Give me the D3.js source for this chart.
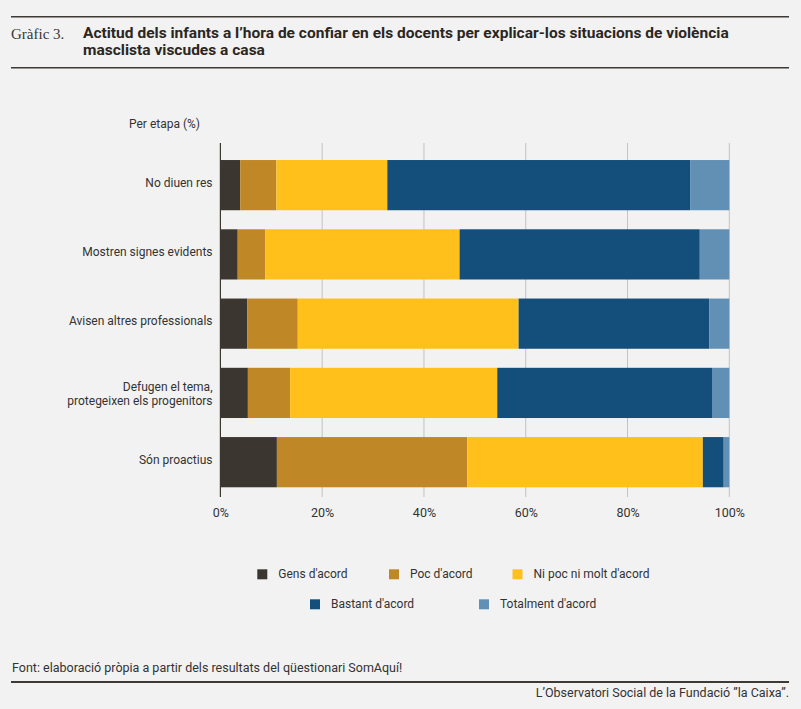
<!DOCTYPE html>
<html>
<head>
<meta charset="utf-8">
<script src="https://cdn.jsdelivr.net/npm/d3@7"></script>
<style>
  body { margin: 0; background: #f2f2f2; }
  svg { display: block; }
  text { font-family: Roboto, "Liberation Sans", sans-serif; fill: #333; }
</style>
</head>
<body>
<div id="chart"></div>
<script>
// chart data
var categories = [
  "No diuen res",
  "Mostren signes evidents",
  "Avisen altres professionals",
  "Defugen el tema, protegeixen els progenitors",
  "Són proactius"
];
var seriesNames = ["Gens d'acord", "Poc d'acord", "Ni poc ni molt d'acord", "Bastant d'acord", "Totalment d'acord"];
var gens      = [3.9, 3.4, 5.3, 5.4, 11.1];
var poc       = [7.1, 5.4, 9.9, 8.3, 37.4];
var niPocNi   = [21.8, 38.2, 43.4, 40.7, 46.3];
var bastant   = [59.5, 47.2, 37.5, 42.2, 4.1];
var totalment = [7.7, 5.8, 3.9, 3.4, 1.1];
var xTicks = [0, 20, 40, 60, 80, 100];

var colors = ["#3b3630", "#c08726", "#ffc01c", "#134f7a", "#6290b5"];

// build rows for the stack
var rows = categories.map(function(c, i) {
  var r = {category: c};
  r[seriesNames[0]] = gens[i];
  r[seriesNames[1]] = poc[i];
  r[seriesNames[2]] = niPocNi[i];
  r[seriesNames[3]] = bastant[i];
  r[seriesNames[4]] = totalment[i];
  return r;
});

var width = 801, height = 709;

var svg = d3.select("#chart").append("svg")
    .attr("width", width)
    .attr("height", height)
    .style("background", "#f2f2f2");

// header
svg.append("line")
    .attr("x1", 11).attr("x2", 789).attr("y1", 16.7).attr("y2", 16.7)
    .attr("stroke", "#3d3935").attr("stroke-width", 1.6);
svg.append("line")
    .attr("x1", 11).attr("x2", 789).attr("y1", 67.7).attr("y2", 67.7)
    .attr("stroke", "#3d3935").attr("stroke-width", 1.6);

svg.append("text")
    .attr("x", 11).attr("y", 38.5)
    .style("font-family", "'Liberation Serif', 'DejaVu Serif', serif")
    .style("font-size", "15px")
    .style("fill", "#3a3632")
    .text("Gràfic 3.");

var title = svg.append("g").attr("class", "title");
var t1 = title.append("text")
    .attr("x", 0).attr("y", 38.5)
    .style("font-weight", "bold").style("font-size", "14.5px").style("fill", "#2b2622")
    .text("Actitud dels infants a l\u2019hora de confiar en els docents per explicar-los situacions de violència");
title.append("text")
    .attr("x", 0).attr("y", 55.2)
    .style("font-weight", "bold").style("font-size", "14.5px").style("fill", "#2b2622")
    .text("masclista viscudes a casa");
// squeeze the title to the condensed width of the original
var sx = 646 / t1.node().getComputedTextLength();
title.attr("transform", "translate(83,0) scale(" + sx + ",1)");

svg.append("text")
    .attr("x", 129).attr("y", 128.3)
    .style("font-size", "12px")
    .text("Per etapa (%)");

// scales
var x = d3.scaleLinear().domain([0, 100]).range([220.4, 729.3]);
var y = d3.scaleBand().domain(categories).range([150.5, 496.8]).paddingInner(0.275).paddingOuter(0.1375);

// gridlines
svg.append("g").selectAll("line")
    .data(xTicks.slice(1))
  .enter().append("line")
    .attr("x1", function(d) { return x(d); })
    .attr("x2", function(d) { return x(d); })
    .attr("y1", 143).attr("y2", 497)
    .attr("stroke", "#c2c2c2").attr("stroke-width", 1);

// stacked bars
var stack = d3.stack().keys(seriesNames);
var layers = stack(rows);

svg.append("g").selectAll("g")
    .data(layers)
  .enter().append("g")
    .attr("fill", function(d, i) { return colors[i]; })
  .selectAll("rect")
    .data(function(d) { return d; })
  .enter().append("rect")
    .attr("x", function(d) { return x(d[0]); })
    .attr("width", function(d) { return x(d[1]) - x(d[0]); })
    .attr("y", function(d) { return y(d.data.category); })
    .attr("height", y.bandwidth());

// zero axis line
svg.append("line")
    .attr("x1", x(0)).attr("x2", x(0))
    .attr("y1", 143).attr("y2", 497)
    .attr("stroke", "#3a3632").attr("stroke-width", 1.2);

// x tick labels
var xAxis = d3.axisBottom(x).tickValues(xTicks).tickSize(0).tickPadding(0)
    .tickFormat(function(d) { return d + "%"; });
var gx = svg.append("g")
    .attr("transform", "translate(0,508)")
    .call(xAxis);
gx.select(".domain").remove();
gx.selectAll("text")
    .attr("dy", "0.71em")
    .style("font-family", "Roboto, sans-serif")
    .style("font-size", "12.5px")
    .style("fill", "#333");

// category labels (long ones wrap after the comma)
var labels = svg.append("g").selectAll("text")
    .data(categories)
  .enter().append("text")
    .attr("text-anchor", "end")
    .attr("x", 212.5)
    .attr("y", function(d) { return y(d) + y.bandwidth() / 2 + 1.5; })
    .style("font-size", "12px");
labels.each(function(d) {
  var k = d.indexOf(", ");
  var parts = k > 0 ? [d.slice(0, k + 1), d.slice(k + 2)] : [d];
  var el = d3.select(this);
  parts.forEach(function(p, i) {
    el.append("tspan")
      .attr("x", 212.5)
      .attr("dy", i === 0 ? (parts.length > 1 ? -3 : 0) : 14)
      .text(p);
  });
});

// legend
var legendPos = [
  {x: 257.3, y: 569.3}, {x: 389, y: 569.3}, {x: 512.5, y: 569.3},
  {x: 310, y: 599.3}, {x: 479, y: 599.3}
];
var legend = svg.append("g").selectAll("g")
    .data(seriesNames)
  .enter().append("g")
    .attr("transform", function(d, i) { return "translate(" + legendPos[i].x + "," + legendPos[i].y + ")"; });
legend.append("rect")
    .attr("width", 10).attr("height", 10)
    .attr("fill", function(d, i) { return colors[i]; });
legend.append("text")
    .attr("x", 21).attr("y", 9)
    .style("font-size", "12px")
    .text(function(d) { return d; });

// footer
svg.append("text")
    .attr("x", 12).attr("y", 671.7)
    .style("font-size", "12.5px")
    .text("Font: elaboració pròpia a partir dels resultats del qüestionari SomAquí!");
svg.append("line")
    .attr("x1", 11).attr("x2", 789).attr("y1", 682).attr("y2", 682)
    .attr("stroke", "#3d3935").attr("stroke-width", 2);
svg.append("text")
    .attr("x", 789).attr("y", 696.5)
    .attr("text-anchor", "end")
    .style("font-size", "12.5px")
    .text("L\u2019Observatori Social de la Fundació \u201Dla Caixa\u201D.");
</script>
</body>
</html>
